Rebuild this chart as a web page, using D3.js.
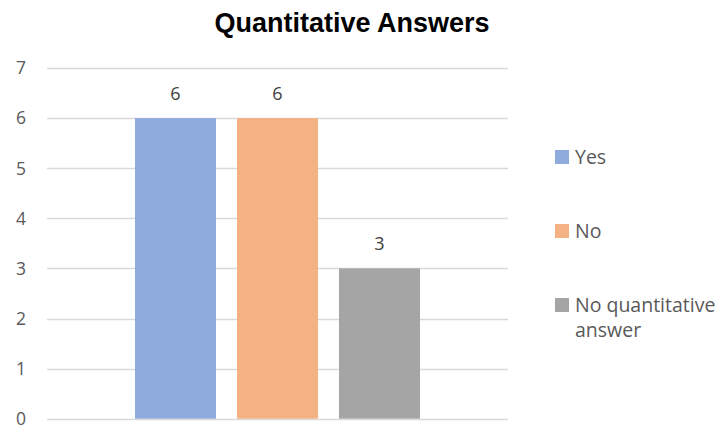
<!DOCTYPE html>
<html><head><meta charset="utf-8">
<script src="https://cdn.jsdelivr.net/npm/d3@7/dist/d3.min.js"></script>
<style>body{margin:0;background:#fff}</style>
</head><body><svg id="c" width="728" height="425"></svg>
<script>
const series = ["Yes", "No", "No quantitative answer"];
const values = [6, 6, 3];
const colors = ["#8FAADC", "#F4B183", "#A5A5A5"];
const yTicks = [0, 1, 2, 3, 4, 5, 6, 7];

(function () {
const svg = d3.select("#c");
const font = "'Open Sans', 'Noto Sans', sans-serif";
const plotL = 47, plotR = 508, plotT = 68, plotB = 418.7;
const y = d3.scaleLinear().domain([0, 7]).range([plotB, plotT]);
const x = d3.scaleBand().domain(series).range([124.5, 430.5]).paddingInner(21/102).paddingOuter(10.5/102);

svg.append("text").attr("x", 352).attr("y", 32).attr("text-anchor", "middle")
  .attr("font-family", "'Liberation Sans', Arial, sans-serif").attr("font-weight", "bold")
  .attr("font-size", 27).attr("fill", "#000").text("Quantitative Answers");

const g = svg.append("g");
g.selectAll("line.grid").data(yTicks).join("line")
  .attr("x1", plotL).attr("x2", plotR)
  .attr("y1", d => Math.round(y(d)) + 0.5).attr("y2", d => Math.round(y(d)) + 0.5)
  .attr("stroke", "#d9d9d9").attr("stroke-width", 1.3);

g.selectAll("text.tick").data(yTicks).join("text")
  .attr("x", 26).attr("y", d => y(d)).attr("dy", "0.36em").attr("text-anchor", "end")
  .attr("font-family", font).attr("font-size", 17.5).attr("fill", "#595959").text(d => d);

const bw = x.bandwidth();
g.selectAll("rect.bar").data(series).join("rect")
  .attr("x", d => x(d)).attr("width", bw)
  .attr("y", (d, i) => y(values[i])).attr("height", (d, i) => y(0) - y(values[i]))
  .attr("fill", (d, i) => colors[i]);

g.selectAll("text.lab").data(series).join("text")
  .attr("x", d => x(d) + bw / 2).attr("y", (d, i) => y(values[i]) - 25).attr("dy", "0.36em")
  .attr("text-anchor", "middle").attr("font-family", font).attr("font-size", 18)
  .attr("fill", "#404040").text((d, i) => values[i]);

const legY = [157, 231, 305];
const lg = svg.append("g");
series.forEach((s, i) => {
  lg.append("rect").attr("x", 555).attr("y", legY[i] - 7).attr("width", 14).attr("height", 14).attr("fill", colors[i]);
  const t = lg.append("text").attr("x", 575).attr("y", legY[i]).attr("dy", "0.36em")
    .attr("font-family", font).attr("font-size", 19.5).attr("fill", "#595959");
  if (s === "No quantitative answer") {
    t.append("tspan").attr("x", 575).text("No quantitative");
    t.append("tspan").attr("x", 575).attr("dy", 25).text("answer");
  } else t.text(s);
});
})();
</script></body></html>
